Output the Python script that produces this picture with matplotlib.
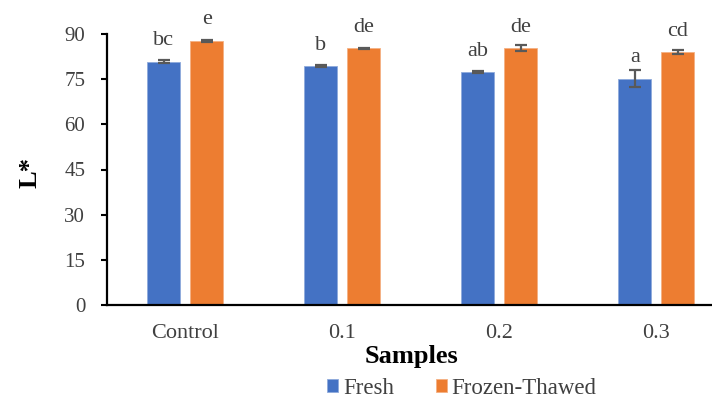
import matplotlib
matplotlib.use("Agg")
import matplotlib.pyplot as plt
import numpy as np

plt.rcParams['font.family'] = ['Liberation Serif', 'DejaVu Serif']

samples = ['Control', '0.1', '0.2', '0.3']
fresh = [80.8, 79.4, 77.4, 75.2]
fresh_err = [0.5, 0.3, 0.3, 2.8]
thawed = [87.8, 85.2, 85.2, 83.9]
thawed_err = [0.3, 0.3, 1.0, 0.7]
fresh_letters = ['bc', 'b', 'ab', 'a']
thawed_letters = ['e', 'de', 'de', 'cd']

blue = '#4472C4'
orange = '#ED7D31'
txt = '#404040'

fig = plt.figure(figsize=(7.12, 4.0), dpi=100)
ax = fig.add_axes([0.150, 0.2375, 0.882, 0.6775])

x = np.arange(len(samples))
w = 0.21
off = 0.137
ekw = dict(ecolor='#595959', elinewidth=1.6, capsize=4.5, capthick=1.6)
ax.bar(x - off, fresh, w, color=blue, edgecolor='#8FAADC', linewidth=0.6,
       yerr=fresh_err, error_kw=ekw, label='Fresh')
ax.bar(x + off, thawed, w, color=orange, edgecolor='#F4B183', linewidth=0.6,
       yerr=thawed_err, error_kw=ekw, label='Frozen-Thawed')

# significance letters above each bar
for i in range(len(samples)):
    ax.text(x[i] - off, fresh[i] + 5.4, fresh_letters[i], ha='center',
            va='baseline', fontsize=16, color=txt)
    ax.text(x[i] + off, thawed[i] + 5.4, thawed_letters[i], ha='center',
            va='baseline', fontsize=16, color=txt)

ax.set_xlim(-0.5, 3.5)
ax.set_ylim(0, 90)
ax.set_yticks(np.arange(0, 91, 15))
ax.set_xticks(x)
ax.set_xticklabels(samples)
ax.tick_params(axis='y', direction='out', length=4.5, width=1.5, labelsize=15,
               labelcolor=txt, pad=11)
ax.tick_params(axis='x', length=0, labelsize=16, labelcolor=txt, pad=14)
for s in ['top', 'right']:
    ax.spines[s].set_visible(False)
for s in ['left', 'bottom']:
    ax.spines[s].set_linewidth(1.6)

fig.text(0.042, 0.57, 'L*', rotation=90, ha='center', va='center',
         fontsize=19, fontweight='bold')
fig.text(411 / 712, 1 - 357 / 400, 'Samples', ha='center', va='center',
         fontsize=19, fontweight='bold')

fig.legend(loc='center', bbox_to_anchor=(462 / 712, 1 - 388 / 400), ncol=2,
           frameon=False, fontsize=16.5, handlelength=0.48, handleheight=0.5,
           handletextpad=0.22, columnspacing=1.8, labelcolor=txt,
           borderpad=0, borderaxespad=0)

fig.savefig('out.png', dpi=100)
